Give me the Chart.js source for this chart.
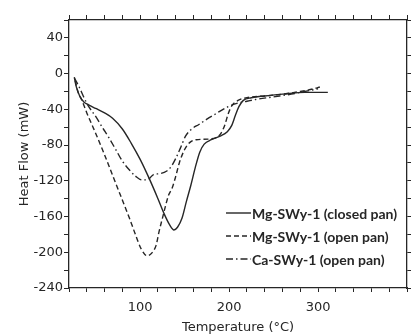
<!DOCTYPE html>
<html>
<head>
<meta charset="utf-8">
<script src="https://cdn.jsdelivr.net/npm/chart.js@4.4.1/dist/chart.umd.min.js"></script>
<style>
  body{margin:0;background:#fff;}
  canvas{display:block;}
</style>
</head>
<body>
<canvas id="dsc" width="415" height="334"></canvas>
<script>
// DSC traces, temperature (C) vs heat flow (mW)
const seriesNames=["Mg-SWy-1 (closed pan)","Mg-SWy-1 (open pan)","Ca-SWy-1 (open pan)"];

const tempClosed=[26,28,32,37,42,50,60,69,80,90,100,110,120,127,133,138,142,147,152,157,162,167,172,180,190,198,203,207,211,216,225,240,260,285,311];
const heatClosed=[-4,-14,-25,-32,-35,-39,-44,-50,-62,-78,-96,-117,-140,-157,-169,-175,-172,-162,-143,-125,-105,-88,-79,-74,-70,-65,-58,-47,-37,-30,-27,-25,-23,-21,-21];

const tempMgOpen=[27,30,35,40,47,58,73,88,95,101,108,113,118,121,125,132,136,140,144,150,156,163,180,190,195,199,203,210,220,240,260,280,295,302];
const heatMgOpen=[-8,-20,-31,-44,-60,-86,-124,-162,-181,-196,-204,-201,-192,-178,-162,-136,-128,-115,-100,-85,-77,-74,-73,-68,-58,-45,-36,-30,-27,-25,-23,-20,-17,-15];

const tempCaOpen=[26,31,36,41,50,58,65,72,80,88,95,102,108,115,122,130,135,140,145,151,158,166,175,185,199,210,220,230,250,270,290,300];
const heatCaOpen=[-5,-14,-25,-35,-48,-61,-72,-84,-98,-108,-115,-119,-119,-113,-112,-109,-104,-95,-84,-70,-62,-57,-51,-45,-37,-33,-31,-29,-26,-23,-19,-17];

const xTicks=[100,200,300];
const yTicks=[40,0,-40,-80,-120,-160,-200,-240];

function pts(t,h){ return t.map((v,i)=>({x:v,y:h[i]})); }

const ink="#262626";
const tickFont={family:"DejaVu Sans",size:13};

const insideLegend={
  id:"insideLegend",
  afterDraw(chart){
    const ctx=chart.ctx;
    const rows=[213,236,259];
    chart.data.datasets.forEach((ds,i)=>{
      const y=rows[i];
      ctx.save();
      ctx.strokeStyle=ds.borderColor;
      ctx.lineWidth=ds.borderWidth;
      ctx.setLineDash(ds.borderDash||[]);
      ctx.beginPath();
      ctx.moveTo(226,y);
      ctx.lineTo(251,y);
      ctx.stroke();
      ctx.setLineDash([]);
      ctx.fillStyle=ink;
      ctx.font="bold 14px Lato";
      ctx.textBaseline="middle";
      ctx.fillText(ds.label,252,y+1);
      ctx.restore();
    });
  }
};

function frameGrid(len){
  return {drawOnChartArea:false,drawTicks:true,tickLength:len,tickColor:ink,tickWidth:1};
}

new Chart(document.getElementById("dsc"),{
  type:"line",
  data:{
    datasets:[
      {label:seriesNames[0],data:pts(tempClosed,heatClosed),borderColor:ink,borderWidth:1.4},
      {label:seriesNames[1],data:pts(tempMgOpen,heatMgOpen),borderColor:ink,borderWidth:1.4,borderDash:[5,3]},
      {label:seriesNames[2],data:pts(tempCaOpen,heatCaOpen),borderColor:ink,borderWidth:1.4,borderDash:[7,3,1.5,3]}
    ]
  },
  options:{
    responsive:false,
    animation:false,
    devicePixelRatio:1,
    layout:{padding:0},
    elements:{point:{radius:0},line:{cubicInterpolationMode:"monotone",fill:false}},
    plugins:{legend:{display:false},tooltip:{enabled:false}},
    scales:{
      x:{
        type:"linear",position:"bottom",min:20,max:400,
        ticks:{stepSize:20,autoSkip:false,maxRotation:0,padding:8,color:ink,font:tickFont,
          callback:v=>xTicks.includes(v)?String(v):""},
        grid:frameGrid(4),
        border:{display:true,color:ink,width:1.3},
        title:{display:true,text:"Temperature (°C)",color:ink,font:{family:"DejaVu Sans",size:13,lineHeight:1},padding:{top:0,bottom:0}},
        afterFit:s=>{s.height=46;}
      },
      xTop:{
        type:"linear",position:"top",min:20,max:400,
        ticks:{stepSize:20,autoSkip:false,display:false},
        grid:frameGrid(5),
        border:{display:true,color:ink,width:1.3},
        afterFit:s=>{s.height=20;}
      },
      y:{
        type:"linear",position:"left",min:-240,max:60,
        ticks:{stepSize:20,autoSkip:false,padding:1,color:ink,font:tickFont,
          callback:v=>yTicks.includes(v)?String(v):""},
        grid:frameGrid(5),
        border:{display:true,color:ink,width:1.3},
        title:{display:true,text:"Heat Flow (mW)",color:ink,font:{family:"DejaVu Sans",size:13,lineHeight:1.2},padding:{top:17,bottom:0}},
        afterFit:s=>{s.width=69;}
      },
      yRight:{
        type:"linear",position:"right",min:-240,max:60,
        ticks:{stepSize:20,autoSkip:false,display:false},
        grid:frameGrid(4),
        border:{display:true,color:ink,width:1.3},
        afterFit:s=>{s.width=5;}
      }
    }
  },
  plugins:[insideLegend]
});
</script>
</body>
</html>
